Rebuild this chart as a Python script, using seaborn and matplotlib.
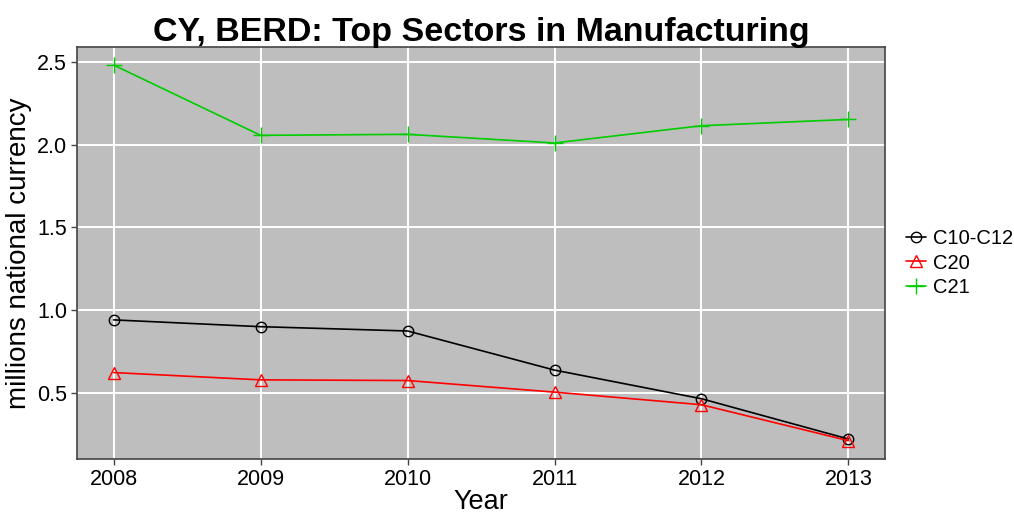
import numpy as np
import pandas as pd
import matplotlib
matplotlib.use("Agg")
import matplotlib.pyplot as plt
import seaborn as sns

# values
years = [2008, 2009, 2010, 2011, 2012, 2013]
c10_c12 = [0.942, 0.901, 0.875, 0.639, 0.466, 0.223]
c20 = [0.624, 0.580, 0.576, 0.506, 0.430, 0.213]
c21 = [2.480, 2.056, 2.062, 2.010, 2.114, 2.152]
sectors = ["C10-C12", "C20", "C21"]
year_ticks = ["2008", "2009", "2010", "2011", "2012", "2013"]
y_ticks = [0.5, 1.0, 1.5, 2.0, 2.5]

df = pd.DataFrame({
    "Year": years * 3,
    "value": c10_c12 + c20 + c21,
    "sector": [s for s in sectors for _ in years],
})

sns.set_style("white")
plt.rcParams["font.family"] = ["Liberation Sans", "DejaVu Sans"]
plt.rcParams["text.color"] = "black"
plt.rcParams["axes.labelcolor"] = "black"

colors = {"C10-C12": "black", "C20": "#FF0000", "C21": "#00CD00"}
marks = {"C10-C12": "o", "C20": "^", "C21": "+"}
msize = {"C10-C12": 7.5, "C20": 9, "C21": 12}

fig = plt.figure(figsize=(10.14, 5.15), dpi=100)
ax = fig.add_axes([0.0759, 0.108, 0.797, 0.801])
ax.set_facecolor("#BEBEBE")

for s in sectors:
    sub = df[df["sector"] == s]
    sns.lineplot(data=sub, x="Year", y="value", ax=ax, color=colors[s],
                 marker=marks[s], markersize=msize[s],
                 markerfacecolor="none", markeredgecolor=colors[s],
                 markeredgewidth=1.0, linewidth=1.2, label=s, zorder=3)

ax.set_xlim(2007.75, 2013.25)
ax.set_ylim(0.10, 2.59)
ax.set_xticks(years)
ax.set_xticklabels(year_ticks)
ax.set_yticks(y_ticks)
ax.set_yticklabels([f"{v:.1f}" for v in y_ticks])
ax.grid(True, color="white", linewidth=1.4)
ax.set_axisbelow(True)
for sp in ax.spines.values():
    sp.set_color("#444444")
    sp.set_linewidth(1.2)
ax.tick_params(axis="both", labelsize=15.5, length=4, width=1,
               direction="out", bottom=True, left=True,
               colors="#444444", labelcolor="black", pad=3)
ax.set_xlabel("Year", fontsize=19.5, labelpad=-1)
ax.set_ylabel("millions national currency", fontsize=20, labelpad=4)
ax.set_title("CY, BERD: Top Sectors in Manufacturing", fontsize=24.5,
             fontweight="bold", pad=4, color="black")

leg = ax.legend(loc="center left", bbox_to_anchor=(1.026, 0.476),
                frameon=False, fontsize=14.5, handlelength=1.0,
                handletextpad=0.35, labelspacing=0.25, borderpad=0,
                borderaxespad=0)

fig.savefig("out.png", dpi=100)
